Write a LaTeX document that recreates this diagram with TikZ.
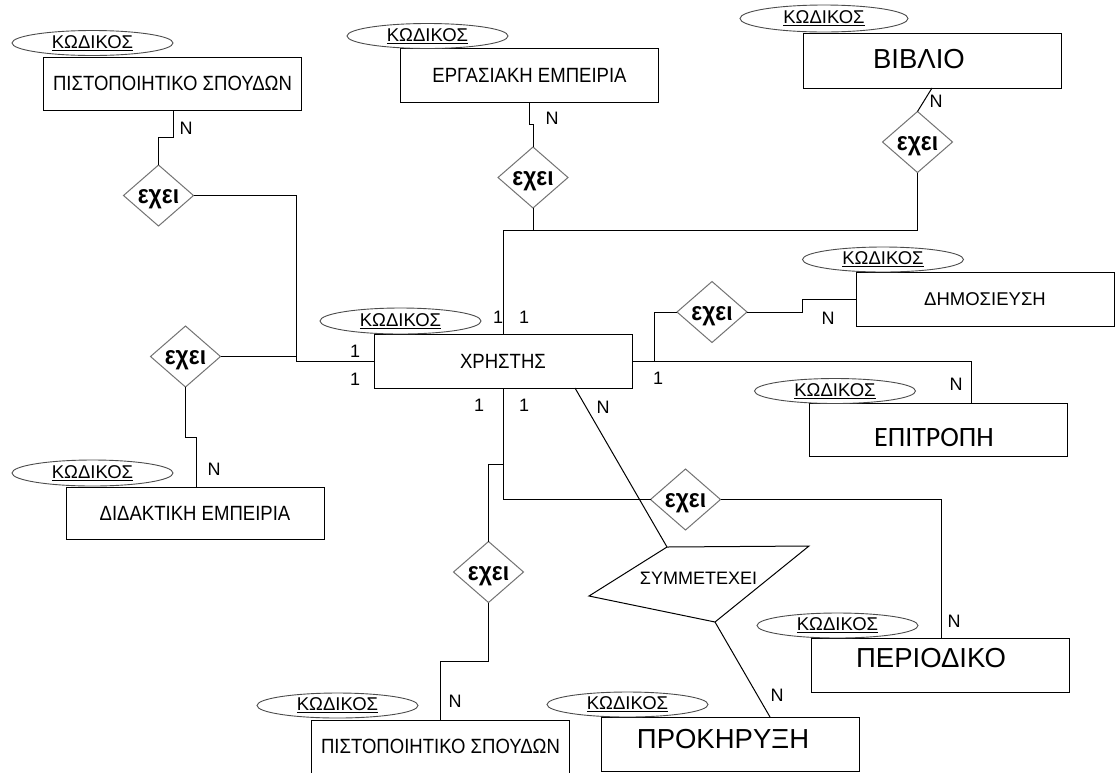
\documentclass[tikz,border=0pt]{standalone}
\usepackage{fontspec}
\setmainfont{Liberation Sans}
\newfontfamily\narrow[FakeStretch=0.9]{Liberation Sans}
\newfontfamily\narrowb[FakeStretch=0.88]{Liberation Sans Bold}
\newfontfamily\calib{Carlito}
\usetikzlibrary{shapes.geometric}
\begin{document}
\begin{tikzpicture}[x=1pt,y=-1pt,
  every node/.style={inner sep=0pt, outer sep=0pt},
  ent/.style={draw=black, line width=1pt, rectangle, minimum width=258, minimum height=54, font=\narrow\fontsize{20.6}{22}\selectfont},
  key/.style={draw=black!70, line width=0.9pt, ellipse, minimum width=161, minimum height=25, font=\fontsize{18.5}{20}\selectfont},
  relt/.style={font=\narrowb\fontsize{26}{28}\selectfont, yshift=-4pt},
  rel/.style={draw=black!55, line width=1pt, diamond, minimum width=70, minimum height=61, label={[relt]center:εχει}},
  card/.style={font=\fontsize{18}{20}\selectfont},
  conn/.style={line width=1pt, draw=black},
  big/.style={font=\fontsize{27.5}{30}\selectfont}
]
\clip (0,0) rectangle (1118,772);
\fill[white] (0,0) rectangle (1118,772);

% entities
\node[ent, minimum height=53] (psT) at (172.5,83.5) {ΠΙΣΤΟΠΟΙΗΤΙΚΟ ΣΠΟΥΔΩΝ};
\node[ent] (erg) at (529.5,75) {ΕΡΓΑΣΙΑΚΗ ΕΜΠΕΙΡΙΑ};
\node[ent, minimum height=55, label={[big, xshift=-13pt, yshift=1.5pt]center:ΒΙΒΛΙΟ}] (bib) at (932,60.5) {};
\node[ent] (xr) at (503,361) {ΧΡΗΣΤΗΣ};
\node[ent, font=\fontsize{18.5}{20}\selectfont] (dim) at (985,299) {ΔΗΜΟΣΙΕΥΣΗ};
\node[ent, minimum height=53, label={[font=\calib\fontsize{28}{30}\selectfont, xshift=-4.5pt, yshift=-8pt]center:ΕΠΙΤΡΟΠΗ}] (epi) at (938.5,429.5) {};
\node[ent, minimum height=52] (did) at (195,513) {ΔΙΔΑΚΤΙΚΗ ΕΜΠΕΙΡΙΑ};
\node[ent, minimum height=53] (psB) at (440.5,746.5) {ΠΙΣΤΟΠΟΙΗΤΙΚΟ ΣΠΟΥΔΩΝ};
\node[ent, label={[big, xshift=-7pt, yshift=5pt]center:ΠΡΟΚΗΡΥΞΗ}] (prok) at (730,744) {};
\node[ent, label={[big, xshift=-9pt, yshift=7pt]center:ΠΕΡΙΟΔΙΚΟ}] (per) at (940,665) {};

% keys
\node[key] (kpsT) at (92.5,43) {\underline{ΚΩΔΙΚΟΣ}};
\node[key] (kerg) at (427.5,36) {\underline{ΚΩΔΙΚΟΣ}};
\node[key, minimum width=168, minimum height=27] (kbib) at (824,18.5) {\underline{ΚΩΔΙΚΟΣ}};
\node[key, minimum height=26] (kxr) at (400.5,321) {\underline{ΚΩΔΙΚΟΣ}};
\node[key] (kdim) at (883,259.5) {\underline{ΚΩΔΙΚΟΣ}};
\node[key] (kepi) at (835,391) {\underline{ΚΩΔΙΚΟΣ}};
\node[key, minimum height=26] (kdid) at (92.5,473) {\underline{ΚΩΔΙΚΟΣ}};
\node[key] (kpsB) at (337.5,705.5) {\underline{ΚΩΔΙΚΟΣ}};
\node[key] (kprok) at (627.5,704.5) {\underline{ΚΩΔΙΚΟΣ}};
\node[key] (kper) at (837.5,625.5) {\underline{ΚΩΔΙΚΟΣ}};

% relationships
\node[rel] (d1) at (158.5,195.5) {};
\node[rel] (d2) at (533,177.5) {};
\node[rel] (d3) at (917.5,142) {};
\node[rel] (d4) at (712,312) {};
\node[rel] (d5) at (185.5,356.5) {};
\node[rel] (d6) at (488.5,572) {};
\node[rel] (d7) at (685.5,499.5) {};

% participation shape
\coordinate (s1) at (667,547);
\coordinate (s2) at (809,546);
\coordinate (s3) at (715,622);
\coordinate (s4) at (589,596);
\draw[conn] (s1) -- (s2) -- (s3) -- (s4) -- cycle;
\node[font=\fontsize{18}{20}\selectfont] (sym) at (698.5,578) {ΣΥΜΜΕΤΕΧΕΙ};

% connectors
\coordinate (a1) at (173,137);
\draw[conn] (psT.south -| a1) -- (a1) -| (d1.north);
\coordinate (b1) at (296,361);
\draw[conn] (d1.east) -| (b1) -- (xr.west);
\draw[conn] (d5.east) -- (d5.east -| b1);
\coordinate (c1) at (196,437);
\draw[conn] (d5.south) |- (c1) -- (c1 |- did.north);
\coordinate (f1) at (529.5,124);
\draw[conn] (erg.south) -- (f1) -| (d2.north);
\coordinate (e1) at (503,230);
\draw[conn] (xr.north) -- (e1) -| (d3.south);
\draw[conn] (d2.south) -- (d2.south |- e1);
\draw[conn] (bib.south) -- (d3.north);
\coordinate (h1) at (654,361);
\draw[conn] (xr.east) -- (h1) |- (d4.west);
\coordinate (h2) at (802,299);
\draw[conn] (d4.east) -| (h2) -- (dim.west);
\coordinate (i1) at (971,403);
\draw[conn] (xr.east) -| (i1);
\draw[conn] (xr.south) |- (d7.west);
\coordinate (j1) at (503,464);
\draw[conn] (j1) -| (d6.north);
\coordinate (j2) at (440,661);
\draw[conn] (d6.south) |- (j2) -- (j2 |- psB.north);
\coordinate (k1) at (941,638);
\draw[conn] (d7.east) -| (k1);
\coordinate (l1) at (575,388);
\draw[conn] (l1) -- (s1);
\coordinate (m1) at (770,717);
\draw[conn] (s3) -- (m1);

% cardinalities
\node[card] (c-psT) at (186,128.5) {N};
\node[card] (c-erg) at (552,118) {N};
\node[card] (c-bib) at (936,101) {N};
\node[card] (c-xl1) at (355,351) {1};
\node[card] (c-xl2) at (355,379) {1};
\node[card] (c-xt1) at (498,317) {1};
\node[card] (c-xt2) at (524,317) {1};
\node[card] (c-xb1) at (479,405) {1};
\node[card] (c-xb2) at (524,405) {1};
\node[card] (c-xn) at (603,407) {N};
\node[card] (c-xr) at (658,378) {1};
\node[card] (c-dim) at (828,318) {N};
\node[card] (c-epi) at (956,384) {N};
\node[card] (c-did) at (214,469) {N};
\node[card] (c-psB) at (455,701) {N};
\node[card] (c-prok) at (777,695) {N};
\node[card] (c-per) at (954,621) {N};
\end{tikzpicture}
\end{document}
